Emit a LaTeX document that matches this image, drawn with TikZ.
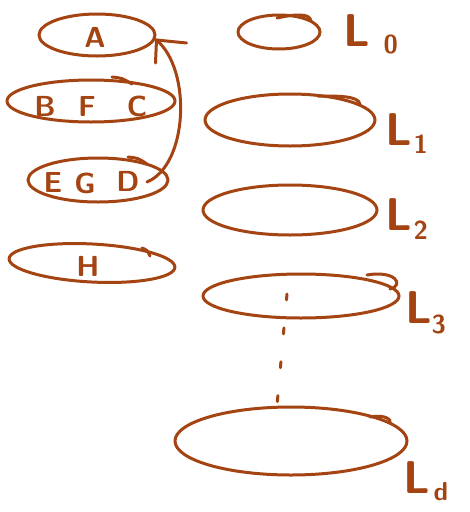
\documentclass[tikz,border=0pt]{standalone}
\usetikzlibrary{shapes.geometric}
\definecolor{ink}{RGB}{163,68,18}
\begin{document}
\begin{tikzpicture}[x=1pt,y=-1pt, line width=3pt, draw=ink, line cap=round,
  blob/.style={draw=ink, ellipse, inner sep=0pt, line width=3pt},
  letter/.style={font=\sffamily\bfseries\fontsize{29}{29}\selectfont, text=ink, inner sep=0pt},
  lev/.style={font=\sffamily\bfseries\fontsize{46}{46}\selectfont, text=ink, inner sep=0pt, anchor=west},
  sub/.style={font=\sffamily\bfseries\fontsize{26}{26}\selectfont, text=ink, inner sep=0pt, anchor=west},
  link/.style={draw=ink, line width=3pt}]
\useasboundingbox (0,0) rectangle (470,512);
% left column
\node[blob, minimum width=116pt, minimum height=42pt] (a) at (97,35) {};
\node[letter] (la) at (95,37) {A};
\node[blob, minimum width=168pt, minimum height=42pt] (bfc) at (91,101) {};
\node[letter] (lb) at (45,106) {B};
\node[letter] (lf) at (87,106) {F};
\node[letter] (lc) at (137,106) {C};
\node[blob, minimum width=140pt, minimum height=44pt] (egd) at (98,180) {};
\node[letter] (le) at (53,182) {E};
\node[letter] (lg) at (85,183) {G};
\node[letter] (ld) at (128,181) {D};
\node[blob, minimum width=166pt, minimum height=38pt, rotate=-3] (h) at (92,263) {};
\node[letter] (lh) at (88,266) {H};
% overlap strokes
\draw[link] (112,77) .. controls (122,78) .. (132,84);
\draw[link] (128,157) .. controls (138,158) .. (147,164);
\draw[link] (142,248) .. controls (147,250) .. (150,256);
% arrow
\coordinate (tip) at ([yshift=-5pt]a.east);
\coordinate (src) at ([xshift=49pt,yshift=-2pt]egd.center);
\draw[link] (src) .. controls (188,165) and (192,70) .. (tip);
\draw[link] ([xshift=30pt,yshift=-3pt]tip) -- (tip) -- ([xshift=-1pt,yshift=-23pt]tip);
% right column
\node[blob, minimum width=82pt, minimum height=34pt] (l0) at (279,32) {};
\node[blob, minimum width=170pt, minimum height=52pt] (l1) at (290,120) {};
\node[blob, minimum width=174pt, minimum height=50pt] (l2) at (290,210) {};
\node[blob, minimum width=196pt, minimum height=44pt] (l3) at (301,296) {};
\node[blob, minimum width=232pt, minimum height=68pt] (lvd) at (291,441) {};
\draw[link] (277,18) .. controls (295,14) and (310,13) .. (311,21);
\draw[link] (318,96) .. controls (340,96) and (358,96) .. (360,104);
\draw[link] (367,275) .. controls (395,270) and (405,285) .. (390,289);
\draw[link] (370,417) .. controls (385,414) and (392,420) .. (390,423);
% level labels
\node[lev] (t0) at (342,31) {L};
\node[sub] (s0) at (382,44) {0};
\node[lev] (t1) at (384,130) {L};
\node[sub] (s1) at (412,144) {1};
\node[lev] (t2) at (384,215) {L};
\node[sub] (s2) at (412,230) {2};
\node[lev] (t3) at (404,308) {L};
\node[sub] (s3) at (430,324) {3};
\node[lev] (td) at (402,478) {L};
\node[sub] (sd) at (432,492) {d};
% dashed link
\coordinate (d0) at ([xshift=-14pt,yshift=2pt]l3.center);
\draw[link, dash pattern=on 6pt off 28pt] (d0) -- ([xshift=-14pt]lvd.north);
\end{tikzpicture}
\end{document}
